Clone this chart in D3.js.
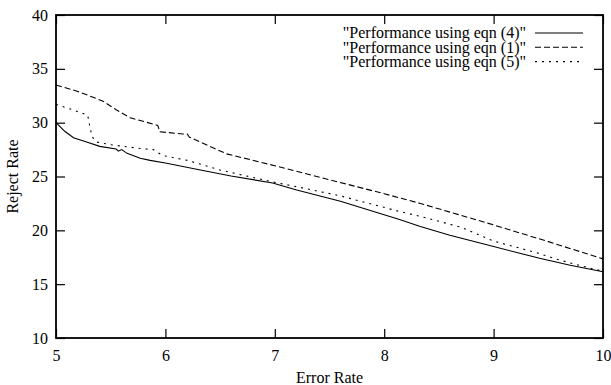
<!DOCTYPE html>
<html>
<head>
<meta charset="utf-8">
<script src="https://cdn.jsdelivr.net/npm/d3@7"></script>
<style>
	body { margin: 0; background: #fff; }
	svg { display: block; font-family: "Liberation Serif", "Times New Roman", serif; }
	.tick text { font-family: "Liberation Serif", "Times New Roman", serif; font-size: 16px; fill: #000; }
	.label { font-family: "Liberation Serif", "Times New Roman", serif; font-size: 16px; fill: #000; }
</style>
</head>
<body>
<div id="chart"></div>
<script>
const seriesNames = ["\"Performance using eqn (4)\"", "\"Performance using eqn (1)\"", "\"Performance using eqn (5)\""];

// eqn (4) - solid
const eqn4X = [5, 5.08, 5.16, 5.28, 5.4, 5.55, 5.57, 5.6, 5.65, 5.77, 5.86, 6.0, 6.32, 6.6, 6.98, 7.2, 7.6, 8.14, 8.33, 8.6, 9.0, 9.42, 9.7, 10];
const eqn4Y = [30.0, 29.2, 28.6, 28.2, 27.8, 27.55, 27.35, 27.5, 27.15, 26.7, 26.5, 26.25, 25.6, 25.05, 24.4, 23.75, 22.7, 21.0, 20.35, 19.55, 18.5, 17.4, 16.75, 16.15];

// eqn (1) - dashed
const eqn1X = [5, 5.2, 5.43, 5.55, 5.68, 5.93, 5.95, 6.16, 6.2, 6.22, 6.32, 6.56, 7.0, 7.5, 8.0, 8.33, 8.7, 9.0, 9.5, 10];
const eqn1Y = [33.5, 32.9, 32.0, 31.2, 30.45, 29.75, 29.15, 28.95, 28.95, 28.65, 28.2, 27.1, 26.0, 24.7, 23.4, 22.5, 21.4, 20.5, 18.95, 17.35];

// eqn (5) - dotted
const eqn5X = [5, 5.15, 5.29, 5.31, 5.33, 5.37, 5.5, 5.77, 5.89, 5.93, 6.0, 6.2, 6.5, 6.98, 7.2, 7.6, 8.14, 8.33, 8.7, 9.0, 9.4, 9.6, 9.8, 10];
const eqn5Y = [31.7, 31.2, 30.7, 29.6, 28.7, 28.2, 27.95, 27.6, 27.5, 27.2, 26.9, 26.5, 25.6, 24.5, 24.05, 23.2, 21.75, 21.3, 20.3, 19.0, 17.9, 17.25, 16.7, 16.2];

const xTicks = [5, 6, 7, 8, 9, 10];
const yTicks = [10, 15, 20, 25, 30, 35, 40];

const width = 611, height = 385;
const margin = { top: 15, right: 8, bottom: 47, left: 56 };
const innerW = width - margin.left - margin.right;
const innerH = height - margin.top - margin.bottom;

const svg = d3.select("#chart").append("svg")
	.attr("width", width)
	.attr("height", height);

const g = svg.append("g")
	.attr("transform", "translate(" + margin.left + "," + margin.top + ")");

const x = d3.scaleLinear().domain([5, 10]).range([0, innerW]);
const y = d3.scaleLinear().domain([10, 40]).range([innerH, 0]);

// axes: ticks inside, labels outside
const bottomAxis = g.append("g")
	.attr("transform", "translate(0," + innerH + ")")
	.call(d3.axisBottom(x).tickValues(xTicks).tickSize(-9).tickPadding(12).tickFormat(d3.format("d")));
const leftAxis = g.append("g")
	.call(d3.axisLeft(y).tickValues(yTicks).tickSize(-9).tickPadding(8).tickFormat(d3.format("d")));
const topAxis = g.append("g")
	.call(d3.axisTop(x).tickValues(xTicks).tickSize(-9).tickFormat(""));
const rightAxis = g.append("g")
	.attr("transform", "translate(" + innerW + ",0)")
	.call(d3.axisRight(y).tickValues(yTicks).tickSize(-9).tickFormat(""));

[bottomAxis, leftAxis, topAxis, rightAxis].forEach(a => {
	a.attr("font-family", null).attr("font-size", null);
	a.select(".domain").remove();
	a.selectAll(".tick line").attr("stroke", "#000").attr("stroke-width", 1.2);
});
bottomAxis.selectAll(".tick text").attr("dy", "0.71em");

// frame
g.append("rect")
	.attr("width", innerW)
	.attr("height", innerH)
	.attr("fill", "none")
	.attr("stroke", "#000")
	.attr("stroke-width", 1.8);

// series
const series = [
	{ xs: eqn4X, ys: eqn4Y, dash: null },
	{ xs: eqn1X, ys: eqn1Y, dash: "6,3" },
	{ xs: eqn5X, ys: eqn5Y, dash: "2,5" }
];
const line = d3.line()
	.x(d => x(d[0]))
	.y(d => y(d[1]));

series.forEach(s => {
	g.append("path")
		.datum(d3.zip(s.xs, s.ys))
		.attr("d", line)
		.attr("fill", "none")
		.attr("stroke", "#000")
		.attr("stroke-width", 1.1)
		.attr("stroke-dasharray", s.dash);
});

// legend (top right)
const legend = svg.append("g");
series.forEach((s, i) => {
	const ly = 33 + i * 14.3;
	legend.append("text")
		.classed("label", true)
		.attr("x", 526)
		.attr("y", ly)
		.attr("dy", "0.33em")
		.attr("text-anchor", "end")
		.text(seriesNames[i]);
	legend.append("line")
		.attr("x1", 535)
		.attr("x2", 583)
		.attr("y1", ly)
		.attr("y2", ly)
		.attr("stroke", "#000")
		.attr("stroke-width", 1.1)
		.attr("stroke-dasharray", s.dash);
});

// axis labels
svg.append("text")
	.classed("label", true)
	.attr("x", margin.left + innerW / 2)
	.attr("y", 378)
	.attr("dy", "0.33em")
	.attr("text-anchor", "middle")
	.text("Error Rate");
svg.append("text")
	.classed("label", true)
	.attr("transform", "rotate(-90)")
	.attr("x", -(margin.top + innerH / 2))
	.attr("y", 13)
	.attr("dy", "0.33em")
	.attr("text-anchor", "middle")
	.text("Reject Rate");
</script>
</body>
</html>
